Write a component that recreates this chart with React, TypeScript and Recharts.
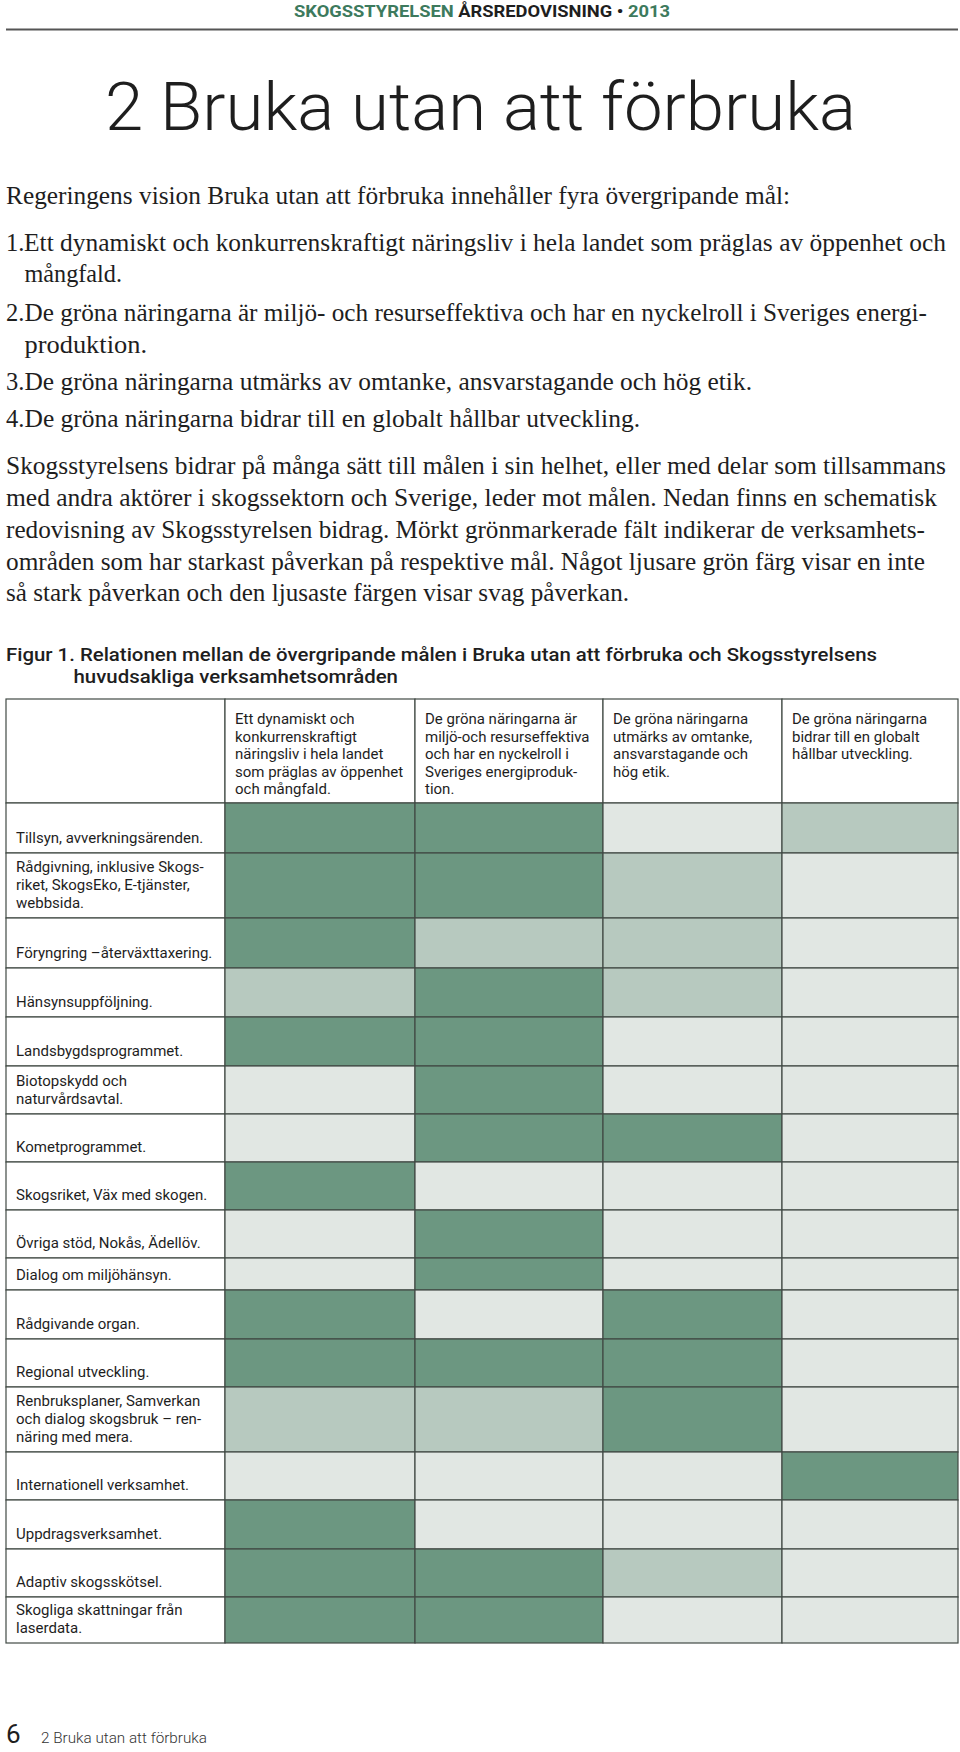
import React from 'react';
import { ScatterChart, Scatter, XAxis, YAxis, ReferenceArea } from 'recharts';

// Goal headers (column headings, one string per printed line)
const goalHeaders = [
  ['Ett dynamiskt och', 'konkurrenskraftigt', 'näringsliv i hela landet', 'som präglas av öppenhet', 'och mångfald.'],
  ['De gröna näringarna är', 'miljö-och resurseffektiva', 'och har en nyckelroll i', 'Sveriges energiproduk-', 'tion.'],
  ['De gröna näringarna', 'utmärks av omtanke,', 'ansvarstagande och', 'hög etik.'],
  ['De gröna näringarna', 'bidrar till en globalt', 'hållbar utveckling.'],
];

// Activity areas (row labels)
const activities = [
  ['Tillsyn, avverkningsärenden.'],
  ['Rådgivning, inklusive Skogs-', 'riket, SkogsEko, E-tjänster,', 'webbsida.'],
  ['Föryngring –återväxttaxering.'],
  ['Hänsynsuppföljning.'],
  ['Landsbygdsprogrammet.'],
  ['Biotopskydd och', 'naturvårdsavtal.'],
  ['Kometprogrammet.'],
  ['Skogsriket, Väx med skogen.'],
  ['Övriga stöd, Nokås, Ädellöv.'],
  ['Dialog om miljöhänsyn.'],
  ['Rådgivande organ.'],
  ['Regional utveckling.'],
  ['Renbruksplaner, Samverkan', 'och dialog skogsbruk – ren-', 'näring med mera.'],
  ['Internationell verksamhet.'],
  ['Uppdragsverksamhet.'],
  ['Adaptiv skogsskötsel.'],
  ['Skogliga skattningar från', 'laserdata.'],
];

// impact per goal: 3 = starkast, 2 = inte så stark, 1 = svag
const goal1 = [3, 3, 3, 2, 3, 1, 1, 3, 1, 1, 3, 3, 2, 1, 3, 3, 3];
const goal2 = [3, 3, 2, 3, 3, 3, 3, 1, 3, 3, 1, 3, 2, 1, 1, 3, 3];
const goal3 = [1, 2, 2, 2, 1, 1, 3, 1, 1, 1, 3, 3, 3, 1, 1, 2, 1];
const goal4 = [2, 1, 1, 1, 1, 1, 1, 1, 1, 1, 1, 1, 1, 3, 1, 1, 1];

const levelColors: Record<number, string> = { 3: '#6c9781', 2: '#b7c9bf', 1: '#e1e7e3' };

// table layout in px
const colWidths = [219, 190, 188, 179, 176];
const headerHeight = 104;
const rowHeights = [50, 65, 50, 49, 49, 48, 48, 48, 48, 32, 49, 48, 65, 48, 49, 48, 46];

const edges = (sizes: number[]) =>
  sizes.reduce((acc: number[], s) => [...acc, acc[acc.length - 1] + s], [0]);
const colEdges = edges(colWidths);
const rowEdges = edges([headerHeight, ...rowHeights]);
const tableW = colEdges[colEdges.length - 1];
const tableH = rowEdges[rowEdges.length - 1];

const goals = [goal1, goal2, goal3, goal4];

const cells = activities.flatMap((_, r) =>
  goals.map((g, c) => ({
    x: (colEdges[c + 1] + colEdges[c + 2]) / 2,
    y: (rowEdges[r + 1] + rowEdges[r + 2]) / 2,
    level: g[r],
    r,
    c,
  }))
);

const GREEN = '#3d7a5d';
const INK = '#1e1e1e';
const STROKE = '#414a45';
const LINE = 17.6;
const SERIF = '"Liberation Serif", "Times New Roman", serif';
const SANS = 'Roboto, "Noto Sans", sans-serif';

const cellShape = (fill: string, lines: string[], align: 'top' | 'bottom') => (p: any) => {
  const { x, y, width, height } = p;
  const y0 = align === 'top' ? y + 25 : y + height - 10.5 - (lines.length - 1) * LINE;
  return (
    <g>
      <rect x={x} y={y} width={width} height={height} fill={fill} stroke={STROKE} strokeWidth={1.2} />
      {lines.length > 0 && (
        <text x={x + 10} y={y0} fontFamily={SANS} fontSize={15} fill={INK}>
          {lines.map((l, i) => (
            <tspan key={i} x={x + 10} dy={i === 0 ? 0 : LINE}>
              {l}
            </tspan>
          ))}
        </text>
      )}
    </g>
  );
};

const bodyLines = [
  { x: 6, y: 204, t: 'Regeringens vision Bruka utan att förbruka innehåller fyra övergripande mål:', end: 790 },
  { x: 24, y: 251, t: 'Ett dynamiskt och konkurrenskraftigt näringsliv i hela landet som präglas av öppenhet och', end: 946 },
  { x: 24.5, y: 282, t: 'mångfald.', end: 122 },
  { x: 24.5, y: 321, t: 'De gröna näringarna är miljö- och resurseffektiva och har en nyckelroll i Sveriges energi-', end: 927 },
  { x: 24.5, y: 353, t: 'produktion.', end: 147 },
  { x: 24.5, y: 390, t: 'De gröna näringarna utmärks av omtanke, ansvarstagande och hög etik.', end: 752 },
  { x: 24.5, y: 427, t: 'De gröna näringarna bidrar till en globalt hållbar utveckling.', end: 640 },
  { x: 6, y: 474, t: 'Skogsstyrelsens bidrar på många sätt till målen i sin helhet, eller med delar som tillsammans', end: 946 },
  { x: 6, y: 506, t: 'med andra aktörer i skogssektorn och Sverige, leder mot målen. Nedan finns en schematisk', end: 937 },
  { x: 6, y: 538, t: 'redovisning av Skogsstyrelsen bidrag. Mörkt grönmarkerade fält indikerar de verksamhets-', end: 925 },
  { x: 6, y: 569.5, t: 'områden som har starkast påverkan på respektive mål. Något ljusare grön färg visar en inte', end: 925 },
  { x: 6, y: 601, t: 'så stark påverkan och den ljusaste färgen visar svag påverkan.', end: 629 },
];
const listNumbers = [
  { n: '1.', y: 251 },
  { n: '2.', y: 321 },
  { n: '3.', y: 390 },
  { n: '4.', y: 427 },
];

const App: React.FC = () => {
  return (
    <div style={{ position: 'absolute', left: 0, top: 0, width: 960, height: 1752, background: '#fff', overflow: 'hidden' }}>
      <svg width={960} height={1752} style={{ position: 'absolute', left: 0, top: 0 }}>
        <text x={294} y={17} fontFamily={SANS} fontWeight={700} fontSize={17} textLength={376} lengthAdjust="spacingAndGlyphs">
          <tspan fill={GREEN}>SKOGSSTYRELSEN</tspan>
          <tspan fill={INK}> ÅRSREDOVISNING • </tspan>
          <tspan fill={GREEN}>2013</tspan>
        </text>
        <line x1={6} x2={958} y1={29.5} y2={29.5} stroke="#555" strokeWidth={2} />
        <text x={105} y={130} fontFamily={SANS} fontWeight={300} fontSize={67} fill={INK} textLength={751} lengthAdjust="spacingAndGlyphs">
          2 Bruka utan att förbruka
        </text>
        {bodyLines.map((l, i) => (
          <text key={i} x={l.x} y={l.y} fontFamily={SERIF} fontSize={24.5} fill={INK} textLength={l.end - l.x} lengthAdjust="spacingAndGlyphs">
            {l.t}
          </text>
        ))}
        {listNumbers.map((n) => (
          <text key={n.n} x={6} y={n.y} fontFamily={SERIF} fontSize={24.5} fill={INK}>
            {n.n}
          </text>
        ))}
        <text x={6} y={661} fontFamily={SANS} fontWeight={500} fontSize={18} fill={INK} textLength={871} lengthAdjust="spacingAndGlyphs">
          Figur 1. Relationen mellan de övergripande målen i Bruka utan att förbruka och Skogsstyrelsens
        </text>
        <text x={73.5} y={683} fontFamily={SANS} fontWeight={500} fontSize={18} fill={INK} textLength={324.5} lengthAdjust="spacingAndGlyphs">
          huvudsakliga verksamhetsområden
        </text>
        <text x={6} y={1743} fontFamily={SANS} fontSize={26} fill={INK}>6</text>
        <text x={41} y={1743} fontFamily={SANS} fontWeight={300} fontSize={15.5} fill="#333" textLength={166} lengthAdjust="spacingAndGlyphs">
          2 Bruka utan att förbruka
        </text>
      </svg>

      <div style={{ position: 'absolute', left: 4, top: 697 }}>
        <ScatterChart width={tableW + 4} height={tableH + 4} margin={{ top: 2, right: 2, bottom: 2, left: 2 }}>
          <XAxis type="number" dataKey="x" domain={[0, tableW]} allowDataOverflow hide />
          <YAxis type="number" dataKey="y" domain={[0, tableH]} allowDataOverflow reversed hide />
          <ReferenceArea
            x1={colEdges[0]} x2={colEdges[1]} y1={rowEdges[0]} y2={rowEdges[1]}
            ifOverflow="visible" shape={cellShape('#fff', [], 'top')}
          />
          {goalHeaders.map((lines, c) => (
            <ReferenceArea
              key={`h-${c}`}
              x1={colEdges[c + 1]} x2={colEdges[c + 2]} y1={rowEdges[0]} y2={rowEdges[1]}
              ifOverflow="visible" shape={cellShape('#fff', lines, 'top')}
            />
          ))}
          {activities.map((lines, r) => (
            <ReferenceArea
              key={`a-${r}`}
              x1={colEdges[0]} x2={colEdges[1]} y1={rowEdges[r + 1]} y2={rowEdges[r + 2]}
              ifOverflow="visible" shape={cellShape('#fff', lines, 'bottom')}
            />
          ))}
          {cells.map((d) => (
            <ReferenceArea
              key={`c-${d.r}-${d.c}`}
              x1={colEdges[d.c + 1]} x2={colEdges[d.c + 2]} y1={rowEdges[d.r + 1]} y2={rowEdges[d.r + 2]}
              ifOverflow="visible" shape={cellShape(levelColors[d.level], [], 'top')}
            />
          ))}
          <Scatter data={cells} isAnimationActive={false} shape={() => <g />} />
        </ScatterChart>
      </div>
    </div>
  );
};

export default App;
